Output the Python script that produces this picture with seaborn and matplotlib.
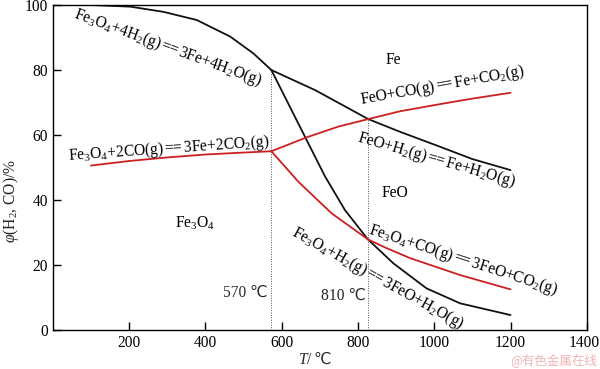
import matplotlib
matplotlib.use("Agg")
import matplotlib.pyplot as plt
import matplotlib.transforms as mtransforms
import seaborn as sns
import pandas as pd

# ---------------- data ----------------
# black curves (H2 reduction)
T_h2_fe3o4_fe = [100, 203, 290, 377, 465, 526, 573]
phi_h2_fe3o4_fe = [100.0, 99.5, 97.9, 95.4, 90.3, 85.1, 80.0]

T_h2_feo_fe = [573, 688, 827, 910, 1015, 1100, 1200]
phi_h2_feo_fe = [80.0, 73.8, 64.9, 61.0, 56.4, 52.6, 49.2]

T_h2_fe3o4_feo = [573, 661, 714, 766, 826, 893, 980, 1068, 1200]
phi_h2_fe3o4_feo = [80.0, 59.5, 47.2, 36.9, 27.9, 20.5, 12.8, 8.2, 4.6]

# red curves (CO reduction)
T_co_fe3o4_fe = [100, 200, 300, 400, 500, 573]
phi_co_fe3o4_fe = [50.6, 52.0, 53.1, 54.0, 54.6, 55.0]

T_co_feo_fe = [573, 666, 749, 827, 910, 1015, 1100, 1200]
phi_co_feo_fe = [55.0, 59.3, 62.6, 64.9, 67.3, 69.5, 71.2, 73.0]

T_co_fe3o4_feo = [573, 644, 731, 826, 871, 937, 1068, 1200]
phi_co_fe3o4_feo = [55.0, 45.6, 35.9, 27.9, 25.4, 22.1, 16.9, 12.5]

# vertical guide lines
guide_T = [573, 826]
guide_top = [80.0, 64.9]
guide_labels = ["570 \u2103", "810 \u2103"]

x_ticks = [200, 400, 600, 800, 1000, 1200, 1400]
y_ticks = [0, 20, 40, 60, 80, 100]

# ---------------- style ----------------
sns.set_theme(style="ticks")
plt.rcParams["font.family"] = ["Liberation Serif", "DejaVu Sans"]
plt.rcParams["mathtext.fontset"] = "custom"
plt.rcParams["mathtext.rm"] = "Liberation Serif"
plt.rcParams["mathtext.it"] = "Liberation Serif:italic"
plt.rcParams["mathtext.default"] = "regular"

fig = plt.figure(figsize=(6.0, 3.69), dpi=100)
ax = fig.add_axes([0.088, 0.1057, 0.890, 0.8807])

BLACK = "#111111"
RED = "#cc1f1f"
LW = 1.3

series = [
    (T_h2_fe3o4_fe, phi_h2_fe3o4_fe, BLACK),
    (T_h2_feo_fe, phi_h2_feo_fe, BLACK),
    (T_h2_fe3o4_feo, phi_h2_fe3o4_feo, BLACK),
    (T_co_fe3o4_fe, phi_co_fe3o4_fe, RED),
    (T_co_feo_fe, phi_co_feo_fe, RED),
    (T_co_fe3o4_feo, phi_co_fe3o4_feo, RED),
]
for T, phi, c in series:
    df = pd.DataFrame({"T": T, "phi": phi})
    sns.lineplot(data=df, x="T", y="phi", ax=ax, color=c, linewidth=LW,
                 sort=False, estimator=None)

for t, top in zip(guide_T, guide_top):
    ax.plot([t, t], [0, top], linestyle=(0, (1, 1.5)), color="#555555", linewidth=0.7)

ax.set_xlim(0, 1400)
ax.set_ylim(0, 100)
ax.set_xticks(x_ticks)
ax.set_yticks(y_ticks)
ax.tick_params(direction="in", length=6, width=1.0, labelsize=11.2, colors="black",
               top=False, right=False)
for s in ax.spines.values():
    s.set_linewidth(1.0)
    s.set_color("black")
    s.set_visible(True)

# nudge the last x tick label so it stays inside the canvas
last = ax.get_xticklabels()[-1]
last.set_transform(last.get_transform() +
                   mtransforms.ScaledTranslation(-3 / 100, 0, fig.dpi_scale_trans))

ax.set_xlabel("")
ax.set_ylabel("")

FS = 11.2
eq = r"$=\!\!\!=$"
labels = [
    (302, 86.8, -20, r"Fe$_3$O$_4$+4H$_2$(g)" + eq + r"3Fe+4H$_2$O(g)"),
    (305, 55.8, 4, r"Fe$_3$O$_4$+2CO(g)" + eq + r"3Fe+2CO$_2$(g)"),
    (1021, 75.1, 10, r"FeO+CO(g)" + eq + r"Fe+CO$_2$(g)"),
    (1005, 52.3, -16, r"FeO+H$_2$(g)" + eq + r"Fe+H$_2$O(g)"),
    (1075, 21.5, -18, r"Fe$_3$O$_4$+CO(g)" + eq + r"3FeO+CO$_2$(g)"),
    (853, 16.0, -29, r"Fe$_3$O$_4$+H$_2$(g)" + eq + r"3FeO+H$_2$O(g)"),
    (892, 83.1, 0, "Fe"),
    (897, 42.2, 0, "FeO"),
    (373, 32.9, 0, r"Fe$_3$O$_4$"),
]
for x, y, r, s in labels:
    ax.text(x, y, s, rotation=r, rotation_mode="anchor", ha="center", va="center",
            fontsize=FS, color="black")

ax.text(505, 11.4, guide_labels[0], ha="center", va="center", fontsize=FS)
ax.text(761, 10.5, guide_labels[1], ha="center", va="center", fontsize=FS)

# axis titles
fig.text(0.522, 0.025, r"$\mathit{T}$/", ha="right", va="center", fontsize=FS)
fig.text(0.522, 0.025, "\u2103", ha="left", va="center", fontsize=FS,
         family=["Liberation Serif", "DejaVu Sans"])
fig.text(0.018, 0.455, r"$\mathit{\varphi}$(H$_2$, CO)/%", rotation=90, ha="center",
         va="center", fontsize=FS)

# watermark
fig.text(0.922, 0.025, "@有色金属在线", ha="center", va="center", fontsize=9,
         color="#f0b4b4", family=["Noto Sans CJK SC", "DejaVu Sans"])

fig.savefig("out.png", dpi=100)
